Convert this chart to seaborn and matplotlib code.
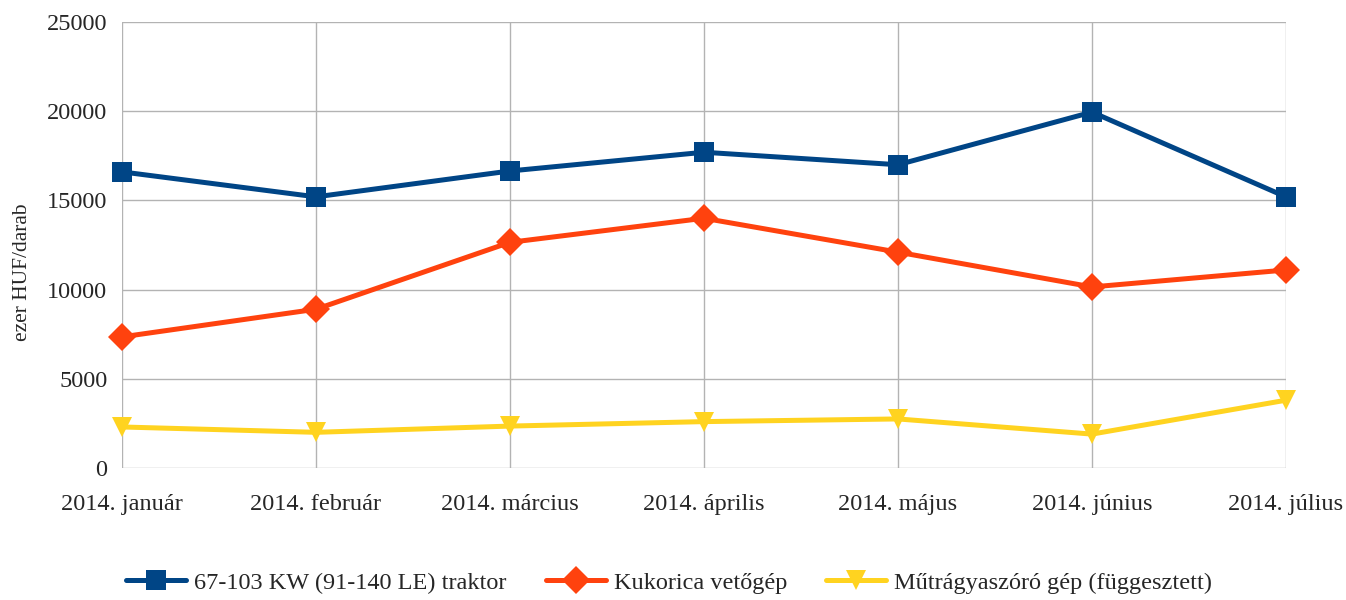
import pandas as pd
import matplotlib.pyplot as plt
import seaborn as sns

# Data
months = ['2014. január', '2014. február', '2014. március', '2014. április',
          '2014. május', '2014. június', '2014. július']
traktor = [16600, 15200, 16650, 17700, 17000, 19950, 15200]
vetogep = [7350, 8900, 12650, 14000, 12100, 10150, 11100]
mutragya = [2300, 2000, 2350, 2600, 2750, 1900, 3800]
series_names = ['67-103 KW (91-140 LE) traktor', 'Kukorica vetőgép',
                'Műtrágyaszóró gép (függesztett)']

df = pd.DataFrame({'honap': months,
                   series_names[0]: traktor,
                   series_names[1]: vetogep,
                   series_names[2]: mutragya})
df['pos'] = range(len(months))
long = df.melt(id_vars=['honap', 'pos'], var_name='sorozat', value_name='ertek')

sns.set_style('white')
plt.rcParams['font.family'] = ['Liberation Serif', 'DejaVu Serif']

colors = {series_names[0]: '#004586', series_names[1]: '#ff420e',
          series_names[2]: '#ffd320'}
markers = {series_names[0]: 's', series_names[1]: 'D', series_names[2]: 'v'}

fig = plt.figure(figsize=(13.46, 6), dpi=100)
ax = fig.add_axes([0.0906, 0.22, 0.8648, 0.7433])

sns.lineplot(data=long, x='pos', y='ertek', hue='sorozat', style='sorozat',
             palette=colors, markers=markers, dashes=False, linewidth=3.6,
             markersize=14, markeredgewidth=0, ax=ax, clip_on=False)

ax.set_xlim(0, len(months) - 1)
ax.set_ylim(0, 25000)
ax.set_yticks(range(0, 25001, 5000))
ax.set_xticks(range(len(months)))
ax.set_xticklabels(months)
ax.grid(True, color='#b3b3b3', linewidth=1)
ax.set_axisbelow(True)
for s in ax.spines.values():
    s.set_visible(False)
ax.tick_params(axis='both', length=6.5, color='#b3b3b3', labelsize=17.5)
ax.tick_params(axis='x', pad=12)
ax.tick_params(axis='y', pad=4)
ax.set_xlabel('')
ax.set_ylabel('ezer HUF/darab', fontsize=15.5)
ax.yaxis.set_label_coords(-0.077, 0.44)

handles, labels = ax.get_legend_handles_labels()
ax.legend(handles, labels, loc='center', bbox_to_anchor=(0.47, -0.257),
          ncol=3, frameon=False, fontsize=17.5, handlelength=2.47,
          columnspacing=1.6, handletextpad=0.33)

fig.savefig('out.png', dpi=100)
